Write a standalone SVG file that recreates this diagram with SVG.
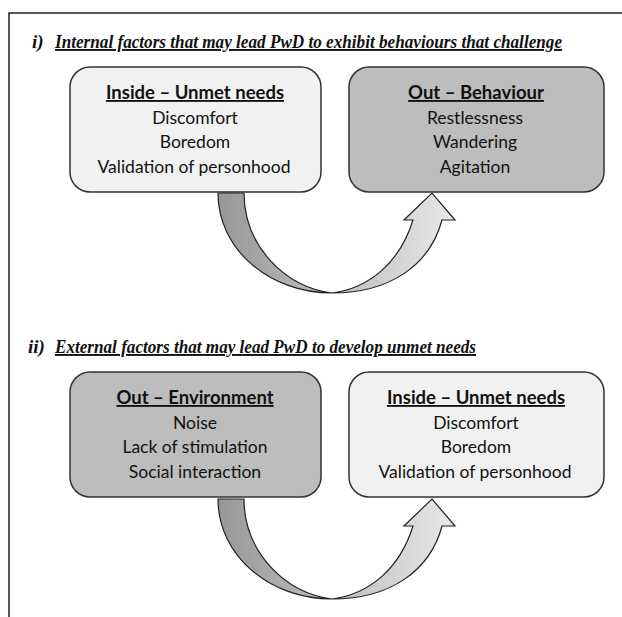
<svg xmlns="http://www.w3.org/2000/svg" width="622" height="617" viewBox="0 0 622 617">
<style>
.frame{fill:none;stroke:#222;stroke-width:1.5}
.box{stroke:#333;stroke-width:1.5}
.light{fill:#f1f1f1}
.dark{fill:#bdbdbd}
.ttl{font-family:Lato,"Liberation Sans",sans-serif;font-size:18.5px;font-weight:bold;text-anchor:middle;fill:#111;text-decoration:underline}
.itm{font-family:Lato,"Liberation Sans",sans-serif;font-size:17.5px;text-anchor:middle;fill:#111}
.hd{font-family:"Liberation Serif",serif;font-size:19px;font-weight:bold;font-style:italic;fill:#111}
.arr{fill:url(#g);stroke:#222;stroke-width:1.2}
</style>
<defs>
<linearGradient id="g" gradientUnits="userSpaceOnUse" x1="218" y1="0" x2="455" y2="0">
<stop offset="0" stop-color="#979797"/>
<stop offset="1" stop-color="#e8e8e8"/>
</linearGradient>
</defs>
<rect width="622" height="617" fill="#fff"/>
<path class="frame" d="M9,617 V13 H622"/>
<text class="hd" x="32" y="48">i)</text>
<text class="hd" x="55" y="48" text-decoration="underline" textLength="507" lengthAdjust="spacingAndGlyphs">Internal factors that may lead PwD to exhibit behaviours that challenge</text>
<text class="hd" x="28" y="353">ii)</text>
<text class="hd" x="55" y="353" text-decoration="underline" textLength="421" lengthAdjust="spacingAndGlyphs">External factors that may lead PwD to develop unmet needs</text>
<g id="connectors">
<path class="arr" d="M218,193 L244,193 C244,245 285,288 332,293 C370,288 400,262 413,220 L404,220 L432,193 L455,220 L442,220 C430,265 390,293 332,293 C270,293 218,250 218,193 Z"/>
<path class="arr" transform="translate(0,306)" d="M218,193 L244,193 C244,245 285,288 332,293 C370,288 400,262 413,220 L404,220 L432,193 L455,220 L442,220 C430,265 390,293 332,293 C270,293 218,250 218,193 Z"/>
</g>
<g id="inside1">
<rect class="box light" x="70" y="67" width="251" height="125" rx="20"/>
<text class="ttl" x="195" y="99">Inside – Unmet needs</text>
<text class="itm" x="195" y="124">Discomfort</text>
<text class="itm" x="195" y="148">Boredom</text>
<text class="itm" x="194" y="173">Validation of personhood</text>
</g>
<g id="behaviour">
<rect class="box dark" x="349" y="67" width="255" height="125" rx="20"/>
<text class="ttl" x="476" y="99">Out – Behaviour</text>
<text class="itm" x="475" y="124">Restlessness</text>
<text class="itm" x="475" y="148">Wandering</text>
<text class="itm" x="475" y="173">Agitation</text>
</g>
<g id="environment">
<rect class="box dark" x="70" y="372" width="251" height="125" rx="20"/>
<text class="ttl" x="195" y="404">Out – Environment</text>
<text class="itm" x="195" y="429">Noise</text>
<text class="itm" x="195" y="453">Lack of stimulation</text>
<text class="itm" x="195" y="478">Social interaction</text>
</g>
<g id="inside2">
<rect class="box light" x="349" y="372" width="255" height="125" rx="20"/>
<text class="ttl" x="476" y="404">Inside – Unmet needs</text>
<text class="itm" x="476" y="429">Discomfort</text>
<text class="itm" x="476" y="453">Boredom</text>
<text class="itm" x="475" y="478">Validation of personhood</text>
</g>
</svg>
